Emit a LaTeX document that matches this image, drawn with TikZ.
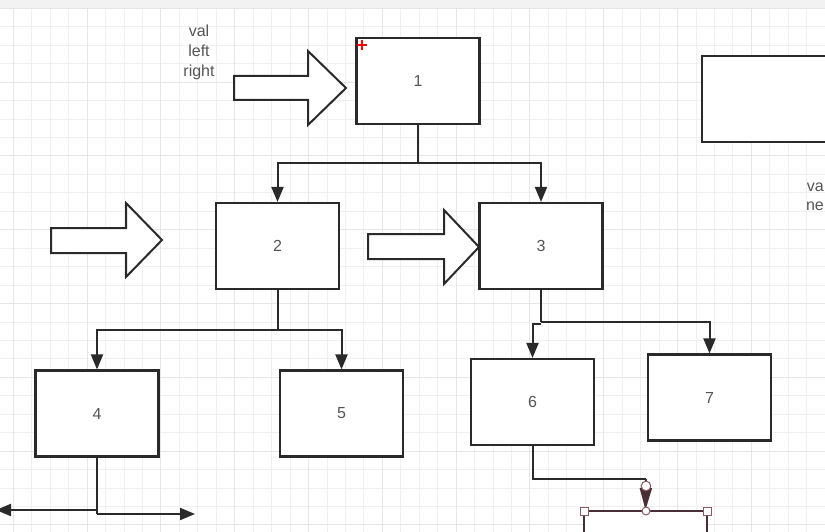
\documentclass[tikz,border=0pt]{standalone}
\usepackage{fontspec}
\setmainfont{Liberation Sans}
\usetikzlibrary{arrows.meta}
\definecolor{gridminor}{HTML}{F0F0F0}
\definecolor{gridmajor}{HTML}{E6E6E6}
\definecolor{topbar}{HTML}{F2F2F2}
\definecolor{edgecol}{HTML}{2A2A2A}
\definecolor{txtcol}{HTML}{555555}
\definecolor{selcol}{HTML}{4A2E36}
\definecolor{handlecol}{HTML}{8A5A64}
\begin{document}
\begin{tikzpicture}[x=1pt,y=-1pt,
  box/.style={draw=edgecol, line width=2.1pt, fill=white, minimum width=123pt, minimum height=86pt, inner sep=0pt, text=txtcol, font=\fontsize{16}{19}\selectfont},
  conn/.style={draw=edgecol, line width=2pt, -{Triangle[length=15pt,width=12pt]}},
  plainline/.style={draw=edgecol, line width=2pt},
  bigarrow/.style={draw=edgecol, line width=2pt, fill=white, line join=miter},
  lbl/.style={align=center, text=txtcol, font=\fontsize{16}{20}\selectfont, inner sep=0pt},
  handle/.style={draw=handlecol, fill=white, line width=1pt}]
\useasboundingbox (0,0) rectangle (825,532);
\clip (0,0) rectangle (825,532);
\fill[white] (0,0) rectangle (825,532);
% grid
\foreach \i in {-5,...,41} \draw[gridminor, line width=0.7pt] ({87+18.45*\i},8.5) -- ({87+18.45*\i},532);
\foreach \i in {-4,...,25} \draw[gridminor, line width=0.7pt] (0,{82+18.45*\i}) -- (825,{82+18.45*\i});
\foreach \i in {-2,...,10} \draw[gridmajor, line width=0.7pt] ({87+73.8*\i},8.5) -- ({87+73.8*\i},532);
\foreach \i in {-1,...,6} \draw[gridmajor, line width=0.7pt] (0,{82+73.8*\i}) -- (825,{82+73.8*\i});
\fill[topbar] (0,0) rectangle (825,8.5);

% big hollow arrows
\draw[bigarrow] (234,76) -- (308,76) -- (308,51) -- (346,88) -- (308,125) -- (308,100) -- (234,100) -- cycle;
\draw[bigarrow] (51,228) -- (126,228) -- (126,203) -- (162,240) -- (126,277) -- (126,253) -- (51,253) -- cycle;
\draw[bigarrow] (368,234) -- (444,234) -- (444,210) -- (479,247) -- (444,284) -- (444,259) -- (368,259) -- cycle;

% boxes
\node[box] (b1) at (418,81) {1};
\node[box] (b2) at (277.5,246) {2};
\node[box] (b3) at (541,246) {3};
\node[box] (b4) at (97,413.5) {4};
\node[box] (b5) at (341.5,413.5) {5};
\node[box] (b6) at (532.5,402) {6};
\node[box] (b7) at (709.5,397.5) {7};
\node[box, minimum width=130pt] (tr) at (767,99) {};
\node[box, draw=selcol] (sel) at (645.5,554) {};

% labels
\node[lbl] (t1) at (199,52) {val\\left\\right};
\node[lbl, anchor=east] (t2a) at (824,187) {va};
\node[lbl, anchor=east] (t2b) at (824,206) {ne};

% connectors
\coordinate (j1) at (418,163);
\draw[plainline] (b1.south) -- (j1);
\draw[conn] (j1) -| (b2.north);
\draw[conn] (j1) -| (b3.north);

\coordinate (j2) at (277.5,330);
\draw[plainline] (b2.south) -- (j2);
\draw[conn] (j2) -| (b4.north);
\draw[conn] (j2) -| (b5.north);

\coordinate (j3) at (541,322);
\coordinate (j3b) at (541,324);
\draw[plainline] (b3.south) -- (j3);
\draw[conn] (j3) -| (b7.north);
\draw[conn] (j3b) -| (b6.north);

\coordinate (j4) at (97,514);
\coordinate (j4a) at (97,510);
\coordinate (l4) at (-4,510);
\coordinate (r4) at (195,514);
\draw[plainline] (b4.south) -- (j4);
\draw[conn] (j4a) -- (l4);
\draw[conn] (j4) -- (r4);

\coordinate (j6) at (646,479);
\draw[plainline] (b6.south) |- (j6);
\draw[conn, -{Triangle[length=22pt,width=12pt]}, draw=selcol, fill=selcol] (j6) -- (sel.north);

% selection handles
\draw[handle] (646,486) circle (4.8);
\draw[handle] (646,511) circle (4);
\draw[handle] (580,507) rectangle (588,515);
\draw[handle] (703,507) rectangle (711,515);

% red cross marker
\draw[red, line width=1.4pt] (357,45) -- (367,45) (362,40) -- (362,50);
\end{tikzpicture}
\end{document}
